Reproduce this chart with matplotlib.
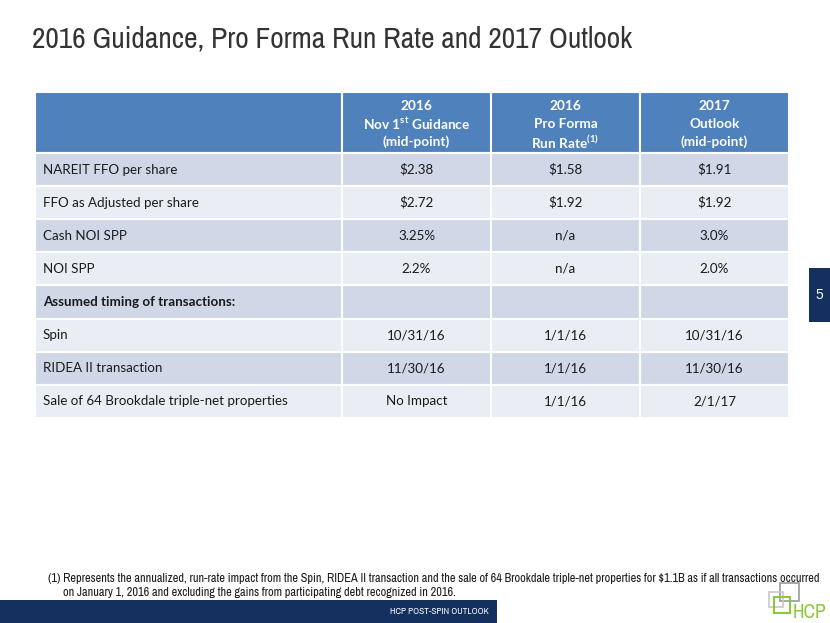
import matplotlib
matplotlib.use("Agg")
import matplotlib.pyplot as plt
import matplotlib.patches as mpatches
from matplotlib import font_manager

# ── Table content ─────────────────────────────────────────────────────────────
TITLE = "2016 Guidance, Pro Forma Run Rate and 2017 Outlook"
col_headers = [
    ["2016", "Nov 1$^{\\mathdefault{st}}$ Guidance", "(mid-point)"],
    ["2016", "Pro Forma", "Run Rate$^{\\mathdefault{(1)}}$"],
    ["2017", "Outlook", "(mid-point)"],
]
row_labels = [
    "NAREIT FFO per share",
    "FFO as Adjusted per share",
    "Cash NOI SPP",
    "NOI SPP",
    "Assumed timing of transactions:",
    "Spin",
    "RIDEA II transaction",
    "Sale of 64 Brookdale triple-net properties",
]
guidance_2016 = ["\\$2.38", "\\$2.72", "3.25%", "2.2%", "", "10/31/16", "11/30/16", "No Impact"]
run_rate_2016 = ["\\$1.58", "\\$1.92", "n/a", "n/a", "", "1/1/16", "1/1/16", "1/1/16"]
outlook_2017 = ["\\$1.91", "\\$1.92", "3.0%", "2.0%", "", "10/31/16", "11/30/16", "2/1/17"]
bold_rows = [4]

FOOTNOTE_1 = ("(1) Represents the annualized, run-rate impact from the Spin, RIDEA II transaction and the sale "
              "of 64 Brookdale triple-net properties for \\$1.1B as if all transactions occurred")
FOOTNOTE_2 = "on January 1, 2016 and excluding the gains from participating debt recognized in 2016."
FOOTER = "HCP POST-SPIN OUTLOOK"
PAGE = "5"

# ── Fonts: prefer a narrow face (slide uses Arial Narrow) ─────────────────────
narrow = None
for f in font_manager.fontManager.ttflist:
    if "Narrow" in f.name or "Condensed" in f.name:
        narrow = f.name
        break
if narrow is None:
    narrow = "Liberation Sans"
names = {f.name for f in font_manager.fontManager.ttflist}
body = "Lato" if "Lato" in names else "DejaVu Sans"

# ── Colours ───────────────────────────────────────────────────────────────────
HEAD_BLUE = "#4F81BD"
ROW_DARK = "#D0D8E8"
ROW_LIGHT = "#E9EDF4"
NAVY = "#14305E"
GREEN = "#8DC63F"

fig = plt.figure(figsize=(8.3, 6.23), dpi=100)
ax = fig.add_axes([0, 0, 1, 1])
ax.set_xlim(0, 830)
ax.set_ylim(623, 0)
ax.axis("off")
renderer = fig.canvas.get_renderer()


def fit_width(t, target_px):
    # size a text so it spans about the same width as on the slide
    w = t.get_window_extent(renderer=renderer).width
    t.set_fontsize(t.get_fontsize() * target_px / w)


title = ax.text(32, 39, TITLE, fontsize=21, family=narrow, color="#333333", va="center", ha="left")
fit_width(title, 600)

# table geometry (pixels)
col_x = [35, 342, 491, 640, 789]
head_top, head_bot = 92, 153
row_h = 33.1
n_rows = len(row_labels)

# header
for c in range(4):
    ax.add_patch(mpatches.Rectangle((col_x[c], head_top), col_x[c + 1] - col_x[c], head_bot - head_top,
                                    facecolor=HEAD_BLUE, edgecolor="white", linewidth=1.5))
for c, lines in enumerate(col_headers):
    cx = (col_x[c + 1] + col_x[c + 2]) / 2
    for k, line in enumerate(lines):
        ax.text(cx, 106 + k * 18, line, fontsize=9.8, family=body, weight="bold",
                color="white", ha="center", va="center")

# body rows
columns = [guidance_2016, run_rate_2016, outlook_2017]
for r in range(n_rows):
    y0 = head_bot + r * row_h
    fc = ROW_DARK if r % 2 == 0 else ROW_LIGHT
    for c in range(4):
        ax.add_patch(mpatches.Rectangle((col_x[c], y0), col_x[c + 1] - col_x[c], row_h,
                                        facecolor=fc, edgecolor="white", linewidth=1.5))
    yc = y0 + row_h / 2
    wt = "bold" if r in bold_rows else "normal"
    ax.text(col_x[0] + 8, yc, row_labels[r], fontsize=9.6, family=body, weight=wt,
            color="#1a1a1a", ha="left", va="center")
    for c, vals in enumerate(columns):
        cx = (col_x[c + 1] + col_x[c + 2]) / 2
        ax.text(cx, yc, vals[r], fontsize=9.6, family=body, color="#1a1a1a",
                ha="center", va="center")

# page number tab
ax.add_patch(mpatches.Rectangle((809, 268), 25, 54, facecolor=NAVY, edgecolor="none"))
ax.text(819, 295, PAGE, fontsize=10, family="Liberation Sans", color="white", ha="center", va="center")

# footnote
fn1 = ax.text(48, 578, FOOTNOTE_1, fontsize=8.2, family=narrow, color="#1a1a1a", ha="left", va="center")
fit_width(fn1, 772)
ax.text(63, 592, FOOTNOTE_2, fontsize=fn1.get_fontsize(), family=narrow, color="#1a1a1a",
        ha="left", va="center")

# footer bar
ax.add_patch(mpatches.Rectangle((0, 600), 497, 23, facecolor=NAVY, edgecolor="none"))
foot = ax.text(489, 611, FOOTER, fontsize=7.3, family=narrow, color="white", ha="right", va="center")
fit_width(foot, 99)

# logo
ax.add_patch(mpatches.Rectangle((780, 583), 19, 18, facecolor="none", edgecolor="#9A9A9A", linewidth=1.2))
ax.add_patch(mpatches.Rectangle((769, 592), 14, 15, facecolor="none", edgecolor="#C8C8C8", linewidth=1.2))
ax.add_patch(mpatches.Rectangle((774, 597), 16, 16, facecolor="none", edgecolor=GREEN, linewidth=1.5))
ax.text(793, 612, "HCP", fontsize=14, family=narrow, color=GREEN, ha="left", va="center")

fig.savefig("out.png", dpi=100)
